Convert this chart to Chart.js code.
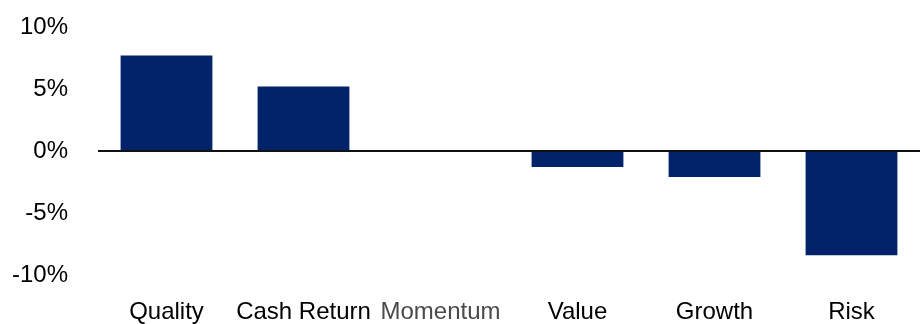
<!DOCTYPE html>
<html>
<head>
<meta charset="utf-8">
<script src="https://cdn.jsdelivr.net/npm/chart.js@4/dist/chart.umd.min.js"></script>
<style>
  html, body { margin: 0; padding: 0; background: #fff; }
  #wrap { width: 921px; height: 324px; position: relative; }
</style>
</head>
<body>
<div id="wrap"><canvas id="chart"></canvas></div>
<script>
// factor returns, in %
const factors = ['Quality', 'Cash Return', 'Momentum', 'Value', 'Growth', 'Risk'];
const returns = [7.7, 5.2, 0, -1.3, -2.1, -8.4];
const yTicks = [10, 5, 0, -5, -10];

const labelColors = ['#000', '#000', '#4a4a4a', '#000', '#000', '#000'];

new Chart(document.getElementById('chart'), {
  type: 'bar',
  data: {
    labels: factors,
    datasets: [{
      data: returns,
      backgroundColor: '#02226A',
      borderWidth: 0,
      barPercentage: 0.67,
      categoryPercentage: 1
    }]
  },
  options: {
    responsive: true,
    maintainAspectRatio: false,
    animation: false,
    layout: { padding: { top: 27, right: 1, bottom: 0, left: 0 } },
    plugins: { legend: { display: false }, tooltip: { enabled: false } },
    scales: {
      x: {
        grid: { display: false },
        border: { display: false },
        afterFit: (axis) => { axis.height = 49; axis.paddingLeft = 0; axis.paddingRight = 0; },
        ticks: {
          padding: 15,
          autoSkip: false,
          color: labelColors,
          font: { family: 'Liberation Sans, Arial, sans-serif', size: 24 },
          maxRotation: 0
        }
      },
      y: {
        min: -10,
        max: 10,
        afterBuildTicks: (axis) => { axis.ticks = yTicks.map(v => ({ value: v })); },
        afterFit: (axis) => { axis.width = 98; axis.paddingTop = 0; axis.paddingBottom = 0; },
        border: { display: false },
        grid: {
          drawTicks: false,
          lineWidth: 2,
          color: (ctx) => (ctx.tick && ctx.tick.value === 0 ? '#111' : 'transparent')
        },
        ticks: {
          padding: 30,
          color: '#000',
          font: { family: 'Liberation Sans, Arial, sans-serif', size: 24 },
          callback: (v) => v + '%'
        }
      }
    }
  }
});
</script>
</body>
</html>
